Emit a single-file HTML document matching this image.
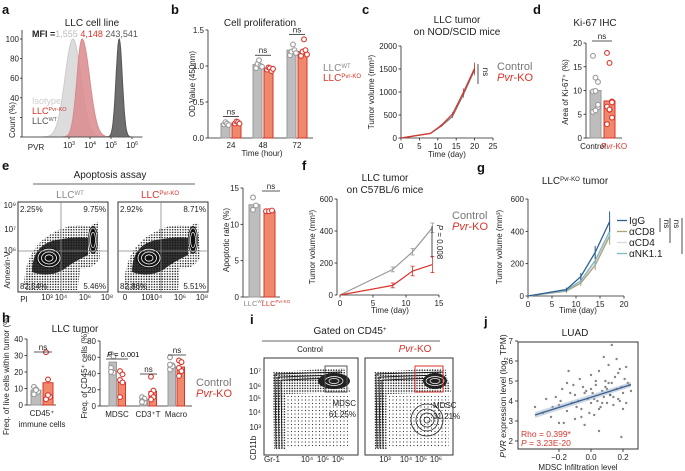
<!DOCTYPE html>
<html><head><meta charset="utf-8"><style>
body{margin:0;background:#fff}
svg{font-family:"Liberation Sans",sans-serif;display:block}
.t{font-size:8px;fill:#222}
.ti{font-size:10px;fill:#222}
.pl{font-size:13px;font-weight:bold;fill:#111}
</style></head><body>
<svg id="s" width="685" height="471" viewBox="0 0 685 471">
<defs>
<pattern id="dots" width="2.6" height="2.6" patternUnits="userSpaceOnUse"><circle cx="1" cy="1" r="0.75" fill="#111"/></pattern>
<pattern id="dots2" width="3.5" height="3.5" patternUnits="userSpaceOnUse"><circle cx="1" cy="1" r="0.6" fill="#333"/></pattern>
</defs>
<g id="static">
<text class="pl" x="2" y="14">a</text>
<text class="pl" x="171" y="14">b</text>
<text class="pl" x="362" y="14">c</text>
<text class="pl" x="533" y="14">d</text>
<text class="pl" x="2" y="170">e</text>
<text class="pl" x="302" y="170">f</text>
<text class="pl" x="477" y="172">g</text>
<text class="pl" x="2" y="322">h</text>
<text class="pl" x="250" y="324">i</text>
<text class="pl" x="484" y="326">j</text>

<text class="ti" x="92" y="26" text-anchor="middle">LLC cell line</text>
<text class="ti" x="260" y="26" text-anchor="middle">Cell proliferation</text>
<text class="ti" x="457" y="23" text-anchor="middle">LLC tumor</text>
<text class="ti" x="457" y="35" text-anchor="middle">on NOD/SCID mice</text>
<text class="ti" x="595" y="26" text-anchor="middle">Ki-67 IHC</text>
<text class="ti" x="110" y="178" text-anchor="middle">Apoptosis assay</text>
<line x1="33" y1="184" x2="195" y2="184" stroke="#333" stroke-width="0.8"/>
<text class="ti" x="385" y="181" text-anchor="middle">LLC tumor</text>
<text class="ti" x="385" y="193" text-anchor="middle">on C57BL/6 mice</text>
<text class="ti" x="575" y="184" text-anchor="middle">LLC<tspan font-size="6" dy="-3">Pvr-KO</tspan><tspan dy="3"> tumor</tspan></text>
<text class="ti" x="75" y="332" text-anchor="middle">LLC tumor</text>
<text class="ti" x="350" y="334" text-anchor="middle">Gated on CD45<tspan font-size="6" dy="-3">+</tspan></text>
<line x1="262" y1="341" x2="440" y2="341" stroke="#333" stroke-width="0.8"/>
<text class="ti" x="575" y="336" text-anchor="middle">LUAD</text>
</g>
<g id="dyn"></g>
</svg>
<script>
// ---- data ----
const aPeakLog=[3.19,3.62,5.39];
const aPeakSd=[0.38,0.24,0.15];
const aColors=['#dcdcdc','#d98a8d','#555'];
const bCats=['24','48','72'];
const bWT=[0.20,1.02,1.22];
const bKO=[0.21,0.96,1.20];
const bWTpts=[[0.19,0.22,0.2,0.18],[0.97,1.03,1.08,1.0,0.99],[1.15,1.2,1.3,1.22,1.18]];
const bKOpts=[[0.2,0.23,0.22,0.2],[0.95,0.98,0.97,0.93,0.96],[1.14,1.2,1.37,1.22,1.16]];
const cDays=[0,8,11,14,17,20];
const cCtrl=[0,100,260,470,950,1480];
const cKO=[0,100,280,520,1000,1520];
const dCtrl=[10,17.3,12.7,11.8,9.8,9.9,6.5,5.5,5.8,7];
const dKO=[7.8,17.9,15.8,7.7,6.6,5.9,4.3,2.9,6,7.5];
const eWT=[12.7,[13.7,12.6,12.0]];
const eKO=[11.8,[11.8,11.8,11.9]];
const fDays=[0,8,11,14];
const fCtrl=[0,160,270,420];
const fCtrlErr=[0,15,20,30];
const fKO=[0,60,150,190];
const fKOErr=[0,15,30,50];
const gDays=[0,8,11,14,17];
const gIgG=[0,40,120,270,460];
const gCD8=[0,30,80,190,370];
const gCD4=[0,35,90,210,380];
const gNK=[0,35,95,220,400];
const gNames=['IgG','αCD8','αCD4','αNK1.1'];
const hLeftBars=[9,13.5];
const hLeftCtrlPts=[11,9.5,8,6.5,9];
const hLeftKOPts=[32,15.5,5,3.5,6];
const hCats=['MDSC','CD3⁺T','Macro'];
const hCtrl=[54,8,49];
const hKO=[29,18,48];
const hCtrlPts=[[64,61,47,41,42],[11,9,6,4,5],[60,50,45,49,51]];
const hKOPts=[[43,39,32,29,11],[36,19,15,11,8],[56,54,47,43,37]];
const jX=[-0.35,-0.3,-0.28,-0.25,-0.22,-0.2,-0.2,-0.18,-0.15,-0.15,-0.12,-0.1,-0.1,-0.08,-0.06,-0.05,-0.04,-0.02,0,0,0.01,0.02,0.03,0.04,0.05,0.06,0.07,0.08,0.09,0.1,0.1,0.11,0.12,0.13,0.14,0.15,0.16,0.17,0.18,0.19,0.2,0.21,0.22,0.24,0.25,-0.17,-0.13,-0.09,-0.07,-0.03,-0.01,0.02,0.05,0.08,0.11,0.14,0.17,0.2,0.23,-0.24,-0.19,-0.11,-0.04,0.03,0.07,0.12,0.16,0.19,0.05,-0.06,0.0,0.09,0.13,-0.14,0.18,0.22];
const jY=[3.7,3.4,4.1,3.2,4.2,3.8,2.9,4.6,3.5,4.9,3.9,4.3,3.1,4.0,3.6,4.7,2.8,4.1,3.9,5.3,4.4,3.3,4.8,4.0,5.5,3.7,4.5,4.2,5.0,3.9,4.6,5.8,4.3,4.9,3.8,5.2,4.6,4.1,5.6,4.7,4.4,5.1,3.9,4.8,4.5,2.9,4.4,3.7,5.1,4.5,3.4,4.1,3.6,6.2,4.9,4.2,5.4,3.6,4.9,3.7,4.0,4.8,4.4,5.0,3.9,4.3,6.1,2.2,2.5,3.2,4.6,4.7,6.8,5.5,4.0,5.7];
// ---- helpers ----
const NS='http://www.w3.org/2000/svg', G=document.getElementById('dyn');
function el(tag,at,txt){const e=document.createElementNS(NS,tag);for(const k in at)e.setAttribute(k,at[k]);if(txt!==undefined)e.textContent=txt;G.appendChild(e);return e;}
function sc(d0,d1,r0,r1){return v=>r0+(v-d0)*(r1-r0)/(d1-d0);}
function line(x1,y1,x2,y2,c,w){return el('line',{x1,y1,x2,y2,stroke:c||'#222','stroke-width':w||0.8});}
function txt(x,y,s,o){const a=Object.assign({x,y,'class':'t','text-anchor':'middle'},o||{});return el('text',a,s);}
function yAxis(x,y,ticks,labels){line(x,y(ticks[0]),x,y(ticks[ticks.length-1]));ticks.forEach((t,i)=>{line(x-2.5,y(t),x,y(t));const e=txt(x-4,y(t)+3,labels[i],{'text-anchor':'end','font-size':9});});}
function xAxis(y,x,ticks,labels){line(x(ticks[0]),y,x(ticks[ticks.length-1]),y);ticks.forEach((t,i)=>{line(x(t),y,x(t),y+2.5);const e=txt(x(t),y+11,labels[i],{'font-size':9});});}
function ylabel(x,y,s,fs){return el('text',{x:0,y:0,'class':'t',transform:`translate(${x},${y}) rotate(-90)`,'text-anchor':'middle','font-size':fs||8.5},s);}
function dot(x,y,c){const e=el('circle',{cx:x,cy:y,r:2.4,fill:'#fff',stroke:c,'stroke-width':1.1});}
function ns(x1,x2,y,s){line(x1,y,x2,y);txt((x1+x2)/2,y-2,s||'ns',{'font-size':8});}
const GR='#aaa',GRF='#bdbdbd',RD='#d9342b',RF='#f0896c';
// ---- a ----
{const x=v=>69+(v-3)*21,y=sc(0,100,137,39);
line(22,30,22,137);line(22,137,140,137);
[0,20,40,60,80,100].forEach(t=>line(20,y(t),22,y(t)));
[40,60,80,100].forEach(t=>txt(19,y(t)+3,t,{'text-anchor':'end','font-size':9}));
[3,4,5,6].forEach(t=>{line(x(t),137,x(t),139);txt(x(t),148,'10',{'font-size':8}).innerHTML='10<tspan font-size="5" dy="-3">'+t+'</tspan>';});
txt(36,150,'PVR',{'font-size':8});ylabel(15,120,'Count (%)',8);
aPeakLog.forEach((m,i)=>{let d='M'+x(1.5)+' 137';for(let v=1.5;v<=6.5;v+=0.03){let s=aPeakSd[i]*(v>m&&i==1?1.5:1);d+=' L'+x(v).toFixed(1)+' '+y(100*Math.exp(-((v-m)**2)/(2*s*s))).toFixed(1);}d+=' L'+x(6.5)+' 137Z';const p=el('path',{d,fill:aColors[i],'fill-opacity':i==0?1:0.85,stroke:i==0?'#ccc':aColors[i]});});
const m=el('text',{x:32,y:37,'font-size':9},'');m.innerHTML='<tspan font-weight="bold" fill="#222">MFI =</tspan><tspan fill="#bbb">1,555</tspan> <tspan fill="#d9342b">4,148</tspan> <tspan fill="#555">243,541</tspan>';
el('text',{x:32,y:104,'font-size':9,fill:'#ccc'},'Isotype');
el('text',{x:32,y:114,'font-size':9,fill:RD}).innerHTML='LLC<tspan font-size="5.5" dy="-3">Pvr-KO</tspan>';
el('text',{x:32,y:124,'font-size':9,fill:'#555'}).innerHTML='LLC<tspan font-size="5.5" dy="-3">WT</tspan>';}
// ---- b ----
{const y=sc(0,1.5,138,30),cx=[231,263,297];
yAxis(208,y,[0,0.5,1,1.5],['0.0','0.5','1.0','1.5']);line(208,138,313,138);
cx.forEach((c,i)=>{txt(c,148,bCats[i],{'font-size':9});
const r1=el('rect',{x:c-10,y:y(bWT[i]),width:9,height:138-y(bWT[i]),fill:GRF,stroke:'#999'});
const r2=el('rect',{x:c+1,y:y(bKO[i]),width:9,height:138-y(bKO[i]),fill:RF,stroke:RD});
bWTpts[i].forEach((v,k)=>dot(c-7+k*1.5,y(v),'#999'));bKOpts[i].forEach((v,k)=>dot(c+4+k*1.5,y(v),RD));
ns(c-8,c+8,y(Math.max(...bWTpts[i],...bKOpts[i]))-5);});
txt(262,156,'Time (hour)',{'font-size':9});ylabel(195,84,'OD Value (450nm)',9);
el('text',{x:323,y:71,'font-size':10,fill:'#888'}).innerHTML='LLC<tspan font-size="6" dy="-3">WT</tspan>';
el('text',{x:323,y:81,'font-size':10,fill:RD}).innerHTML='LLC<tspan font-size="6" dy="-3">Pvr-KO</tspan>';}
// ---- c ----
{const x=sc(0,25,401,493),y=sc(0,2000,138,46);
yAxis(401,y,[0,500,1000,1500,2000],['0','500','1000','1500','2000']);xAxis(138,x,[0,5,10,15,20,25],['0','5','10','15','20','25']);
[[cCtrl,'#777'],[cKO,RD]].forEach(([s,c],k)=>{const p=el('polyline',{points:cDays.map((d,i)=>x(d)+','+y(s[i])).join(' '),fill:'none',stroke:c,'stroke-width':1.2});
cDays.forEach((d,i)=>{if(i>1){line(x(d),y(s[i]*1.08),x(d),y(s[i]*0.92),c);}});});
txt(447,157,'Time (day)',{'font-size':9});ylabel(374,92,'Tumor volume (mm³)',9);
line(478,64,478,84);el('text',{x:0,y:0,'class':'t',transform:'translate(483,72) rotate(90)','text-anchor':'middle'},'ns');
el('text',{x:497,y:70,'font-size':11,fill:'#777'},'Control');el('text',{x:497,y:81,'font-size':11,fill:RD,'font-style':'italic'}).innerHTML='Pvr<tspan font-style="normal">-KO</tspan>';}
// ---- d ----
{const y=sc(0,20,138,43);yAxis(586,y,[0,5,10,15,20],['0','5','10','15','20']);line(586,138,622,138);
const r1=el('rect',{x:590,y:y(dCtrl[0]),width:11,height:138-y(dCtrl[0]),fill:GRF,stroke:'#999'});
const r2=el('rect',{x:604,y:y(dKO[0]),width:11,height:138-y(dKO[0]),fill:RF,stroke:RD});
dCtrl.slice(1).forEach((v,k)=>dot(593+(k%3)*2.5,y(v),'#999'));dKO.slice(1).forEach((v,k)=>dot(607+(k%3)*2.5,y(v),RD));
ns(592,612,41);txt(593,149,'Control',{'font-size':8,fill:'#777'});el('text',{x:614,y:149,'font-size':8,fill:RD,'text-anchor':'middle','font-style':'italic'}).innerHTML='Pvr<tspan font-style="normal">-KO</tspan>';
ylabel(568,92,'Area of Ki-67⁺ (%)',8.5);}
// ---- e flow ----
function flow(x0,pcts){const r=el('rect',{x:x0,y:202,width:90,height:90,fill:'#fff',stroke:'#333'});
el('path',{d:`M${x0+6} 284 Q${x0+8} 250 ${x0+30} 236 Q${x0+50} 222 ${x0+72} 226 L${x0+80} 222 L${x0+82} 258 Q${x0+75} 270 ${x0+62} 268 L${x0+60} 290 L${x0+8} 290 Z`,fill:'url(#dots)'});
el('path',{d:`M${x0+14} 272 Q${x0+14} 245 ${x0+38} 240 Q${x0+60} 236 ${x0+70} 238 L${x0+70} 255 Q${x0+55} 262 ${x0+45} 270 Q${x0+30} 278 ${x0+14} 272Z`,fill:'#111','fill-opacity':0.85});
el('ellipse',{cx:x0+31,cy:258,rx:13,ry:10,fill:'#111'});
[11,7.5,4].forEach(s=>el('ellipse',{cx:x0+31,cy:258,rx:s,ry:s*0.8,fill:'none',stroke:'#fff','stroke-width':0.8}));
el('ellipse',{cx:x0+75,cy:240,rx:5,ry:14,fill:'#111'});[4,2.5].forEach(s=>el('ellipse',{cx:x0+75,cy:240,rx:s,ry:s*3,fill:'none',stroke:'#fff','stroke-width':0.7}));
line(x0+43,202,x0+43,292,'#888');line(x0,251,x0+90,251,'#888');
txt(x0+2,212,pcts[0],{'text-anchor':'start','font-size':9});txt(x0+88,212,pcts[1],{'text-anchor':'end','font-size':9});
txt(x0+2,289,pcts[2],{'text-anchor':'start','font-size':9});txt(x0+88,289,pcts[3],{'text-anchor':'end','font-size':9});}
flow(18,['2.25%','9.75%','82.54%','5.46%']);flow(118,['2.92%','8.71%','82.86%','5.51%']);
el('text',{x:70,y:198,'font-size':10,fill:'#888','text-anchor':'middle'}).innerHTML='LLC<tspan font-size="6" dy="-3">WT</tspan>';
el('text',{x:160,y:198,'font-size':10,fill:RD,'text-anchor':'middle'}).innerHTML='LLC<tspan font-size="6" dy="-3">Pvr-KO</tspan>';
['10⁹','10⁷','10⁶'].forEach((s,i)=>txt(16,[208,232,253][i],s,{'text-anchor':'end','font-size':6.5}));
['10³','10⁴','10⁶','10⁸'].forEach((s,i)=>{txt([47,61,85,107][i],300,s,{'font-size':6.5});txt([152,161,185,207][i]-5,300,s,{'font-size':6.5});});
txt(125,300,'0',{'font-size':6.5});txt(24,302,'PI',{'font-size':8});ylabel(10,270,'Annexin-V',8);
// ---- e bars ----
{const y=sc(0,15,297,188);yAxis(243,y,[0,5,10,15],['0','5','10','15']);line(243,297,280,297);
const r1=el('rect',{x:249,y:y(eWT[0]),width:11,height:297-y(eWT[0]),fill:GRF,stroke:'#999'});
const r2=el('rect',{x:264,y:y(eKO[0]),width:11,height:297-y(eKO[0]),fill:RF,stroke:RD});
eWT[1].forEach((v,k)=>dot(253+(k%2)*3,y(v),'#999'));eKO[1].forEach((v,k)=>dot(266+k*3,y(v),RD));
ns(262,280,191);el('text',{x:254,y:306,'font-size':7.5,fill:'#888','text-anchor':'middle'}).innerHTML='LLC<tspan font-size="4.5" dy="-3">WT</tspan>';
el('text',{x:276,y:306,'font-size':7.5,fill:RD,'text-anchor':'middle'}).innerHTML='LLC<tspan font-size="4.5" dy="-3">Pvr-KO</tspan>';ylabel(229,240,'Apoptotic rate (%)',8.5);}
// ---- f ----
{const x=sc(0,15,340,439),y=sc(0,600,295,199);
yAxis(337,y,[0,200,400,600],['0','200','400','600']);xAxis(295,x,[0,5,10,15],['0','5','10','15']);
[[fCtrl,fCtrlErr,'#999'],[fKO,fKOErr,RD]].forEach(([s,e,c],k)=>{const p=el('polyline',{points:fDays.map((d,i)=>x(d)+','+y(s[i])).join(' '),fill:'none',stroke:c,'stroke-width':1.2});
fDays.forEach((d,i)=>{if(i){line(x(d),y(s[i]+e[i]),x(d),y(s[i]-e[i]),c);line(x(d)-2,y(s[i]+e[i]),x(d)+2,y(s[i]+e[i]),c);line(x(d)-2,y(s[i]-e[i]),x(d)+2,y(s[i]-e[i]),c);}});});
txt(390,313,'Time (day)',{'font-size':9});ylabel(315,247,'Tumor volume (mm³)',9);
line(432,226,432,258);el('text',{x:0,y:0,'class':'t',transform:'translate(437,242) rotate(90)','text-anchor':'middle','font-size':8.5}).innerHTML='<tspan font-style="italic">P</tspan> = 0.008';
el('text',{x:452,y:219,'font-size':11,fill:'#777'},'Control');el('text',{x:452,y:230,'font-size':11,fill:RD,'font-style':'italic'}).innerHTML='Pvr<tspan font-style="normal">-KO</tspan>';}
// ---- g ----
{const x=sc(0,20,528,624),y=sc(0,600,296,199);
yAxis(528,y,[0,200,400,600],['0','200','400','600']);xAxis(296,x,[0,5,10,15,20],['0','5','10','15','20']);
const cols=['#2f5f93','#b0a07a','#d8d8d8','#7fb9c7'];
[gCD4,gCD8,gNK,gIgG].forEach((s,k)=>{const c=cols[[2,1,3,0][k]];const p=el('polyline',{points:gDays.map((d,i)=>x(d)+','+y(s[i])).join(' '),fill:'none',stroke:c,'stroke-width':1.3});
gDays.forEach((d,i)=>{if(i){const e=s[i]*0.12+8;line(x(d),y(s[i]+e),x(d),y(s[i]-e),c,1);}});});
gNames.forEach((n,i)=>{const yy=224+i*11;line(617,yy-3.5,627,yy-3.5,cols[i],1.3);el('text',{x:629,y:yy,'font-size':10,fill:'#222'},n);});
txt(578,313,'Time (day)',{'font-size':9});ylabel(502,247,'Tumor volume (mm³)',9);
[[660,218,232],[670,218,243],[682,218,254]].forEach(([lx,a,b])=>{line(lx,a,lx,b);el('text',{x:0,y:0,'class':'t',transform:`translate(${lx+4},${a+6}) rotate(90)`,'text-anchor':'middle'},'ns');});}
// ---- h left ----
{const y=sc(0,40,405,339);yAxis(27,y,[0,10,20,30,40],['0','10','20','30','40']);line(27,405,56,405);
const r1=el('rect',{x:31,y:y(hLeftBars[0]),width:10,height:405-y(hLeftBars[0]),fill:GRF,stroke:'#999'});
const r2=el('rect',{x:43,y:y(hLeftBars[1]),width:10,height:405-y(hLeftBars[1]),fill:RF,stroke:RD});
hLeftCtrlPts.forEach((v,k)=>dot(34+(k%3)*2,y(v),'#999'));hLeftKOPts.forEach((v,k)=>dot(46+(k%3)*2,y(v),RD));
ns(34,52,352);txt(42,416,'CD45⁺',{'font-size':8.5});txt(42,427,'immune cells',{'font-size':8.5});ylabel(9,375,'Freq. of live cells within tumor (%)',7);}
// ---- h right ----
{const y=sc(0,80,406,341),cx=[117,148,176];yAxis(100,y,[0,20,40,60,80],['0','20','40','60','80']);line(100,406,192,406);
cx.forEach((c,i)=>{const r1=el('rect',{x:c-8,y:y(hCtrl[i]),width:7.5,height:406-y(hCtrl[i]),fill:GRF,stroke:'#999'});
const r2=el('rect',{x:c+1,y:y(hKO[i]),width:7.5,height:406-y(hKO[i]),fill:RF,stroke:RD});
hCtrlPts[i].forEach((v,k)=>dot(c-6+(k%2)*2.5,y(v),'#999'));hKOPts[i].forEach((v,k)=>dot(c+3+(k%2)*2.5,y(v),RD));txt(c,417,hCats[i],{'font-size':8.5});});
line(106,359,128,359);el('text',{x:107,y:357,'font-size':7.5}).innerHTML='<tspan font-style="italic">P</tspan> = 0.001';ns(140,157,374);ns(168,186,355);
ylabel(87,375,'Freq. of CD45⁺ cells (%)',7.5);
el('text',{x:196,y:386,'font-size':11,fill:'#777'},'Control');el('text',{x:196,y:397,'font-size':11,fill:RD,'font-style':'italic'}).innerHTML='Pvr<tspan font-style="normal">-KO</tspan>';}
// ---- i ----
function cd(x0,ko){const r=el('rect',{x:x0,y:358,width:ko?88:94,height:97,fill:'#fff',stroke:'#333'});
el('rect',{x:x0+22,y:396,width:62,height:52,fill:'url(#dots2)'});
el('path',{d:`M${x0+10} 450 L${x0+9} 372 L${x0+80} 368 L${x0+86} 392 L${x0+22} 394 L${x0+22} 450Z`,fill:'url(#dots)'});
[0,3,6].forEach(o=>el('path',{d:`M${x0+12+o} 448 L${x0+11+o} ${374+o} L${x0+78-o} ${372+o}`,fill:'none',stroke:'#111','stroke-width':0.9}));
el('ellipse',{cx:x0+70,cy:381,rx:ko?12:16,ry:8,fill:'#222'});[9,5].forEach(s=>el('ellipse',{cx:x0+70,cy:381,rx:s,ry:s/2,fill:'none',stroke:'#fff','stroke-width':0.7}));
if(ko){[16,11,7,3].forEach(s=>el('ellipse',{cx:x0+62,cy:420,rx:s,ry:s,fill:'none',stroke:'#222','stroke-width':0.8}));}
el('rect',{x:x0+(ko?50:61),y:366,width:ko?28:22,height:26,fill:'none',stroke:ko?RD:'#555','stroke-width':1});}
cd(264,0);cd(365,1);
txt(310,352,'Control',{'font-size':10,fill:'#555'});el('text',{x:415,y:352,'font-size':10,fill:RD,'text-anchor':'middle','font-style':'italic'}).innerHTML='Pvr<tspan font-style="normal">-KO</tspan>';
txt(356,406,'MDSC',{'font-size':9,fill:'#555','text-anchor':'end'});txt(356,417,'61.25%',{'font-size':9,fill:'#555','text-anchor':'end'});
txt(433,408,'MDSC',{'font-size':9,fill:RD,'text-anchor':'start'});txt(433,419,'31.21%',{'font-size':9,fill:RD,'text-anchor':'start'});
['10⁷','10⁶','10⁵','10⁴','10³'].forEach((s,i)=>txt(261,[374,389,401,415,430][i],s,{'font-size':6,'text-anchor':'end'}));
txt(272,462,'Gr-1',{'font-size':8});['10⁴','10⁵','10⁶'].forEach((s,i)=>txt([307,323,338][i],462,s,{'font-size':6}));
['10³','10⁴','10⁵','10⁶'].forEach((s,i)=>txt([385,406,421,436][i],462,s,{'font-size':6}));ylabel(256,448,'CD11b',8);
// ---- j ----
{const x=sc(-0.2,0.2,559,623),y=sc(2,7,441,341);
const r=el('rect',{x:518,y:342,width:120,height:107,fill:'#fff',stroke:'#333'});
[2,3,4,5,6,7].forEach(t=>{line(515,y(t),518,y(t));txt(513,y(t)+3,t,{'text-anchor':'end','font-size':9});});
[-0.2,0,0.2].forEach((t,i)=>{line(x(t),449,x(t),452);txt(x(t),460,['−0.2','0.0','0.2'][i],{'font-size':9});});
jX.forEach((v,i)=>{const c=el('circle',{cx:x(v),cy:y(jY[i]),r:1.2,fill:'#666','fill-opacity':0.8});});
el('path',{d:`M${x(-0.35)} ${y(3.15)} L${x(0.25)} ${y(4.7)} L${x(0.25)} ${y(4.95)} L${x(-0.35)} ${y(3.45)}Z`,fill:'#9fb3cc','fill-opacity':0.5});
const rl=el('line',{x1:x(-0.35),y1:y(3.3),x2:x(0.25),y2:y(4.82),stroke:'#3a5f8f','stroke-width':1.3});
el('text',{x:521,y:437,'font-size':8.5,fill:RD},'Rho = 0.399*');el('text',{x:521,y:446,'font-size':8.5,fill:RD}).innerHTML='<tspan font-style="italic">P</tspan> = 3.23E-20';
txt(578,470,'MDSC Infiltration level',{'font-size':9});
el('text',{x:0,y:0,'font-size':8.5,fill:'#222',transform:'translate(506,396) rotate(-90)','text-anchor':'middle'}).innerHTML='<tspan font-style="italic">PVR</tspan> expression level (log<tspan font-size="5.5" dy="2">2</tspan><tspan dy="-2"> TPM)</tspan>';}
</script>
</body></html>
